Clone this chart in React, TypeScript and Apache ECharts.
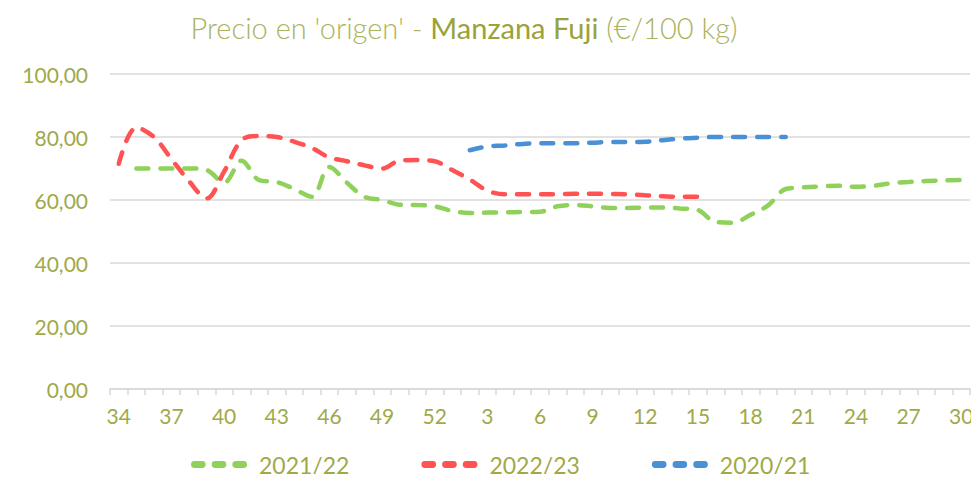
import React, { useEffect, useRef } from "react";
import * as echarts from "echarts";

const weeks = [
  "34", "35", "36", "37", "38", "39", "40", "41", "42", "43", "44", "45", "46", "47", "48", "49", "50", "51", "52",
  "1", "2", "3", "4", "5", "6", "7", "8", "9", "10", "11", "12", "13", "14", "15", "16", "17", "18", "19", "20",
  "21", "22", "23", "24", "25", "26", "27", "28", "29", "30",
];

const s2021_22 = [
  null, 70, 70, 70, 70, 69.5, 65.5, 72.5, 66.3, 65.7, 63.5, 61, 70.5, 65.5, 61, 60, 58.5, 58.4, 58,
  56.5, 55.9, 56, 56.1, 56.2, 56.3, 58, 58.4, 58, 57.5, 57.5, 57.6, 57.6, 57.3, 56.8, 53, 52.8, 55.3, 58.3, 63.5,
  64, 64.3, 64.5, 64.2, 64.5, 65.3, 65.7, 66, 66.2, 66.4,
];

const s2022_23 = [
  71.5, 83, 80, 73, 66, 60.5, 69, 79, 80.3, 80, 78.5, 76.5, 73.5, 72.3, 71, 70, 72.5, 72.7, 72.3,
  69.5, 66.5, 63, 61.8, 61.8, 61.8, 61.8, 62, 62, 61.9, 61.8, 61.5, 61.2, 61, 61, null, null, null, null, null,
  null, null, null, null, null, null, null, null, null, null,
];

const s2020_21 = [
  null, null, null, null, null, null, null, null, null, null, null, null, null, null, null, null, null, null, null,
  null, 75.8, 77, 77.3, 77.8, 78, 78, 78, 78.2, 78.4, 78.4, 78.5, 79, 79.5, 79.8, 80, 80, 80, 80, 80,
  null, null, null, null, null, null, null, null, null, null,
];

const yTicks = { min: 0, max: 100, interval: 20 };

const GREEN = "#8fd15a";
const RED = "#ff5252";
const BLUE = "#4a90d4";
const LABEL = "#a0a948";
const FONT = "Lato, 'Noto Sans', sans-serif";

const legendIcon =
  "path://M4,0 h9 a4,4 0 0 1 0,8 h-9 a4,4 0 0 1 0,-8 z M28,0 h9 a4,4 0 0 1 0,8 h-9 a4,4 0 0 1 0,-8 z M52,0 h9 a4,4 0 0 1 0,8 h-9 a4,4 0 0 1 0,-8 z";

export default function App() {
  const ref = useRef<HTMLDivElement>(null);
  useEffect(() => {
    if (!ref.current) return;
    const chart = echarts.init(ref.current, null, { renderer: "svg" });
    const mk = (name: string, data: (number | null)[], color: string) => ({
      name,
      type: "line",
      data,
      smooth: 0.35,
      showSymbol: false,
      connectNulls: false,
      itemStyle: { color },
      lineStyle: { color, width: 4.5, type: [12, 12], cap: "round" },
    });
    chart.setOption({
      animation: false,
      title: {
        text: "{a|Precio en 'origen' - }{b|Manzana Fuji}{a| (€/100 kg)}",
        left: 459,
        textAlign: "center",
        top: 8,
        textStyle: {
          rich: {
            a: { fontFamily: FONT, fontSize: 29, fontWeight: 300, color: "#aab35e" },
            b: { fontFamily: FONT, fontSize: 29, fontWeight: 400, color: "#9aa238" },
          },
        },
      },
      grid: { left: 110, right: 9, top: 74, bottom: 93, containLabel: false },
      legend: {
        bottom: 1,
        left: 186,
        itemGap: 72,
        itemWidth: 56,
        itemHeight: 8,
        icon: legendIcon,
        textStyle: { fontFamily: FONT, fontSize: 23, color: LABEL, padding: [0, 0, 0, 7] },
        data: [
          { name: "2021/22", itemStyle: { color: GREEN } },
          { name: "2022/23", itemStyle: { color: RED } },
          { name: "2020/21", itemStyle: { color: BLUE } },
        ],
      },
      xAxis: {
        type: "category",
        data: weeks,
        boundaryGap: true,
        axisLine: { lineStyle: { color: "#d9d9d9", width: 1.5 } },
        axisTick: { show: true, interval: 0, length: 6, lineStyle: { color: "#d9d9d9", width: 1.5 } },
        axisLabel: { interval: 2, fontFamily: FONT, fontSize: 21, color: LABEL, margin: 16 },
        splitLine: { show: false },
      },
      yAxis: {
        type: "value",
        min: yTicks.min,
        max: yTicks.max,
        interval: yTicks.interval,
        axisLine: { show: false },
        axisTick: { show: false },
        axisLabel: {
          fontFamily: FONT,
          fontSize: 21,
          color: LABEL,
          margin: 22,
          formatter: (v: number) => v.toFixed(2).replace(".", ","),
        },
        splitLine: { lineStyle: { color: "#d9d9d9", width: 1.5 } },
      },
      series: [mk("2021/22", s2021_22, GREEN), mk("2022/23", s2022_23, RED), mk("2020/21", s2020_21, BLUE)],
    });
    return () => chart.dispose();
  }, []);
  return <div ref={ref} style={{ width: 979, height: 482, margin: -8 }} />;
}
